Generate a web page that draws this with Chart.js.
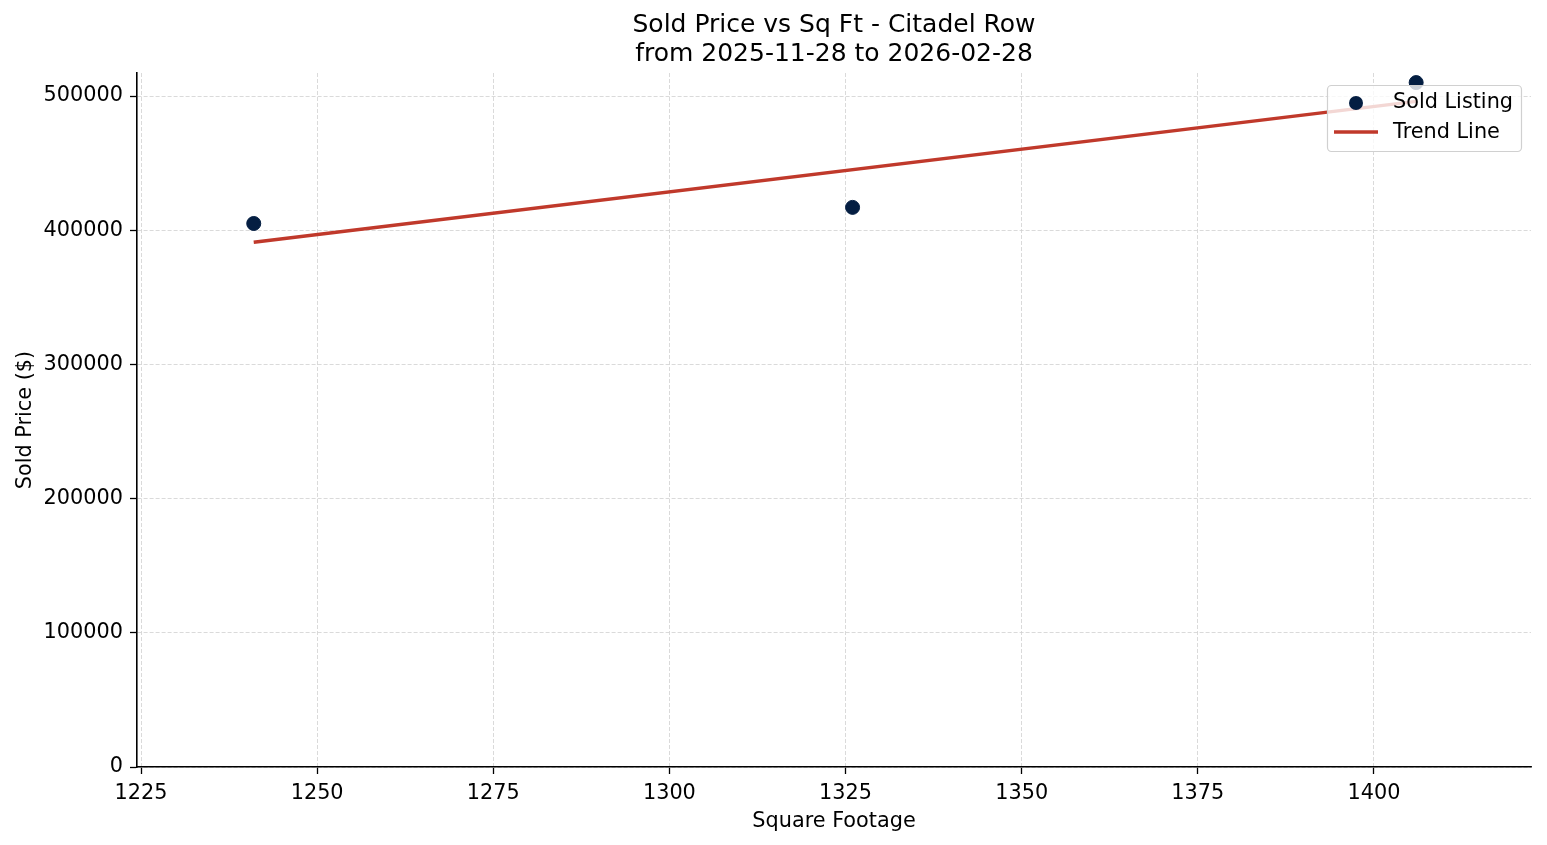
<!DOCTYPE html>
<html>
<head>
<meta charset="utf-8">
<script src="https://cdn.jsdelivr.net/npm/chart.js@4.4.1/dist/chart.umd.min.js"></script>
<style>
  html, body { margin: 0; padding: 0; background: #fff; }
  #wrap { width: 1547px; height: 845px; position: relative; }
</style>
</head>
<body>
<div id="wrap"><canvas id="grafico"></canvas></div>
<script>
// dados
const sqft = [1241, 1326, 1406];
const precos = [405000, 417000, 510000];
const trendX = [1241, 1406];
const trendY = [391000, 496000];
const xTicks = [1225, 1250, 1275, 1300, 1325, 1350, 1375, 1400];
const yTicks = [0, 100000, 200000, 300000, 400000, 500000];
const tituloLinhas = ['Sold Price vs Sq Ft - Citadel Row', 'from 2025-11-28 to 2026-02-28'];

const FONTE = "'DejaVu Sans', sans-serif";
const COR_PONTO = '#041e42';
const COR_LINHA = '#c0392b';

// título e legenda desenhados à moda do matplotlib
const extras = {
    id: 'extras',
    afterDraw(chart) {
        const ctx = chart.ctx;
        const area = chart.chartArea;
        ctx.save();
        ctx.fillStyle = '#000';
        ctx.font = '25px ' + FONTE;
        ctx.textAlign = 'center';
        ctx.textBaseline = 'middle';
        const cx = (area.left + area.right) / 2;
        ctx.fillText(tituloLinhas[0], cx, 25);
        ctx.fillText(tituloLinhas[1], cx, 54);

        // caixa da legenda
        const bx = 1327, by = 85, bw = 194, bh = 66;
        ctx.fillStyle = 'rgba(255,255,255,0.8)';
        ctx.strokeStyle = '#d0d0d0';
        ctx.lineWidth = 1.2;
        ctx.beginPath();
        ctx.roundRect(bx + 0.5, by + 0.5, bw, bh, 4);
        ctx.fill();
        ctx.stroke();

        ctx.fillStyle = COR_PONTO;
        ctx.beginPath();
        ctx.arc(1356, 103, 7, 0, Math.PI * 2);
        ctx.fill();

        ctx.strokeStyle = COR_LINHA;
        ctx.lineWidth = 3.5;
        ctx.beginPath();
        ctx.moveTo(1334, 132);
        ctx.lineTo(1378, 132);
        ctx.stroke();

        ctx.fillStyle = '#000';
        ctx.font = '20.8px ' + FONTE;
        ctx.textAlign = 'left';
        ctx.fillText('Sold Listing', 1393, 103);
        ctx.fillText('Trend Line', 1393, 133);
        ctx.restore();
    }
};

document.addEventListener("DOMContentLoaded", function() {
    const ctx = document.getElementById('grafico').getContext('2d');
    new Chart(ctx, {
        type: 'scatter',
        data: {
            datasets: [
                {
                    label: 'Trend Line',
                    type: 'line',
                    data: trendX.map((x, i) => ({ x: x, y: trendY[i] })),
                    borderColor: COR_LINHA,
                    borderWidth: 3.5,
                    pointRadius: 0,
                    fill: false,
                    order: 2
                },
                {
                    label: 'Sold Listing',
                    data: sqft.map((x, i) => ({ x: x, y: precos[i] })),
                    backgroundColor: COR_PONTO,
                    borderColor: COR_PONTO,
                    pointRadius: 7,
                    order: 1
                }
            ]
        },
        options: {
            responsive: true,
            maintainAspectRatio: false,
            animation: false,
            devicePixelRatio: 1,
            layout: { padding: { top: 73, right: 16, left: 0, bottom: 0 } },
            plugins: {
                legend: { display: false },
                title: { display: false },
                tooltip: { enabled: false }
            },
            scales: {
                x: {
                    type: 'linear',
                    min: 1224.43,
                    max: 1422.3,
                    afterBuildTicks: s => { s.ticks = xTicks.map(v => ({ value: v })); },
                    afterFit: s => { s.height = 78; },
                    grid: { color: '#d0d0d0', lineWidth: 0.8, tickColor: '#000', tickLength: 7, tickWidth: 1.3 },
                    border: { display: true, color: '#000', width: 1.6, dash: [4, 2] },
                    ticks: { color: '#000', font: { family: FONTE, size: 20.8 }, padding: 7, maxRotation: 0, callback: v => String(v) },
                    title: { display: true, text: 'Square Footage', color: '#000', font: { family: FONTE, size: 20.8 }, padding: { top: 4, bottom: 11 } }
                },
                y: {
                    min: 0,
                    max: 517139,
                    afterBuildTicks: s => { s.ticks = yTicks.map(v => ({ value: v })); },
                    afterFit: s => { s.width = 137; },
                    grid: { color: '#d0d0d0', lineWidth: 0.8, tickColor: '#000', tickLength: 7, tickWidth: 1.3 },
                    border: { display: true, color: '#000', width: 1.6, dash: [4, 2] },
                    ticks: { color: '#000', font: { family: FONTE, size: 20.8 }, padding: 7, callback: v => String(v) },
                    title: { display: true, text: 'Sold Price ($)', color: '#000', font: { family: FONTE, size: 20.8 }, padding: { top: 13, bottom: 4 } }
                }
            }
        },
        plugins: [extras]
    });
});
</script>
</body>
</html>
